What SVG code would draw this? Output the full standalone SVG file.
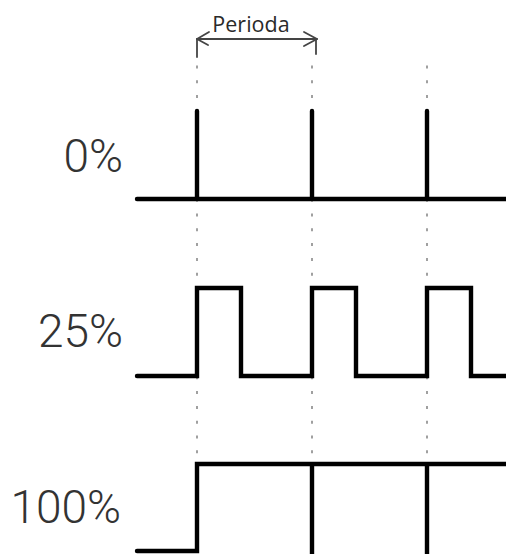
<svg xmlns="http://www.w3.org/2000/svg" width="506" height="554" viewBox="0 0 506 554">
<style>
.sig{fill:none;stroke:#000;stroke-width:4.4;stroke-linecap:round;stroke-linejoin:miter}
.grid{stroke:#a0a0a0;stroke-width:2;stroke-dasharray:3 11.8}
.lbl{font-family:Roboto,"Liberation Sans",sans-serif;font-weight:300;font-size:46px;fill:#333;text-anchor:end}
.dim{fill:none;stroke:#444;stroke-width:1.8;stroke-linecap:round;stroke-linejoin:round}
</style>
<rect width="506" height="554" fill="#fff"/>
<g id="grid">
<line class="grid" x1="197" y1="65.5" x2="197" y2="554"/>
<line class="grid" x1="312" y1="65.5" x2="312" y2="554"/>
<line class="grid" x1="427" y1="65.5" x2="427" y2="554"/>
</g>
<g id="period">
<line class="dim" x1="197" y1="39" x2="197" y2="57"/>
<line class="dim" x1="316" y1="39" x2="316" y2="54"/>
<line class="dim" x1="197" y1="39" x2="317" y2="39"/>
<polyline class="dim" points="209,32 197,39 208,45"/>
<polyline class="dim" points="304,32 317,39 304,46"/>
<text x="251" y="32" font-family="'Open Sans','Liberation Sans',sans-serif" font-size="21.5" fill="#2a2a2a" text-anchor="middle">Perioda</text>
</g>
<g id="row0">
<text class="lbl" x="123" y="172">0%</text>
<path class="sig" d="M137 199 H506 M197 111 V199 M312 111 V199 M427 111 V199"/>
</g>
<g id="row25">
<text class="lbl" x="123" y="347">25%</text>
<path class="sig" d="M137 376 H197 V288 H241 V376 H312 V288 H356 V376 H427 V288 H471 V376 H508"/>
</g>
<g id="row100">
<text class="lbl" x="121" y="523">100%</text>
<path class="sig" d="M137 551 H197 V464 H508 M312 464 V556 M427 464 V556"/>
</g>
</svg>
